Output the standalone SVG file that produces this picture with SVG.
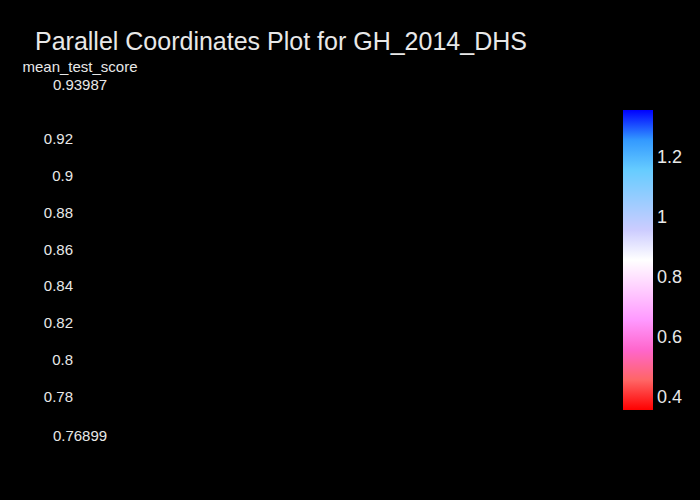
<svg xmlns="http://www.w3.org/2000/svg" width="700" height="500" viewBox="0 0 700 500">
<defs>
<linearGradient id="cb" x1="0" y1="0" x2="0" y2="1">
<stop offset="0" stop-color="rgb(0,0,255)"/>
<stop offset="0.1" stop-color="rgb(51,153,255)"/>
<stop offset="0.2" stop-color="rgb(102,204,255)"/>
<stop offset="0.3" stop-color="rgb(153,204,255)"/>
<stop offset="0.4" stop-color="rgb(204,204,255)"/>
<stop offset="0.5" stop-color="rgb(255,255,255)"/>
<stop offset="0.6" stop-color="rgb(255,204,255)"/>
<stop offset="0.7" stop-color="rgb(255,153,255)"/>
<stop offset="0.8" stop-color="rgb(255,102,204)"/>
<stop offset="0.9" stop-color="rgb(255,102,102)"/>
<stop offset="1" stop-color="rgb(255,0,0)"/>
</linearGradient>
<style>
text{font-family:"Liberation Sans",Arial,sans-serif;fill:#e8e8e8}
.t{font-size:15px}
.tk{font-size:15px;text-anchor:end}
.mid{text-anchor:middle}
.cb{font-size:18px}
</style>
</defs>
<rect width="700" height="500" fill="#000"/>
<text x="35" y="50" style="font-size:25px">Parallel Coordinates Plot for GH_2014_DHS</text>
<g id="axis-mean_test_score">
<text class="t mid" x="80" y="72">mean_test_score</text>
<text class="t mid" x="80" y="90">0.93987</text>
<text class="tk" x="73" y="144">0.92</text>
<text class="tk" x="73" y="181">0.9</text>
<text class="tk" x="73" y="217.5">0.88</text>
<text class="tk" x="73" y="254.5">0.86</text>
<text class="tk" x="73" y="291">0.84</text>
<text class="tk" x="73" y="328">0.82</text>
<text class="tk" x="73" y="365">0.8</text>
<text class="tk" x="73" y="401.5">0.78</text>
<text class="t mid" x="80" y="440.5">0.76899</text>
</g>
<g id="colorbar">
<rect x="623" y="110" width="30" height="300" fill="url(#cb)"/>
<text class="cb" x="657" y="163">1.2</text>
<text class="cb" x="657" y="223">1</text>
<text class="cb" x="657" y="283">0.8</text>
<text class="cb" x="657" y="343">0.6</text>
<text class="cb" x="657" y="403">0.4</text>
</g>
<g id="connectors"/>
</svg>
